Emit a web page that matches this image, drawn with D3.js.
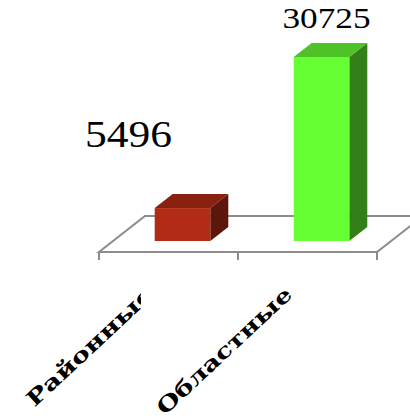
<!DOCTYPE html>
<html><head><meta charset="utf-8">
<script src="https://cdn.jsdelivr.net/npm/d3@7"></script>
<style>html,body{margin:0;padding:0;background:#fff;overflow:hidden}</style>
</head><body>
<script>
const categories = ["Районные", "Областные"];
const values = [5496, 30725];
const frontColors = ["#B22B16", "#66FF33"];
const topColors = ["#8A2010", "#4FC228"];
const sideColors = ["#5C160B", "#33801A"];

const W = 410, H = 416;
const svg = d3.select("body").append("svg").attr("width", W).attr("height", H);

const floorY = 252;
const floorDepth = [46, -36];
const barOff = [14, -11];
const barDepth = [18, -14];

const x = d3.scaleBand().domain(categories).range([99, 377]).paddingInner(0.6).paddingOuter(0.3);
const y = d3.scaleLinear().domain([0, 35000]).range([floorY + barOff[1], 31.4]);

// floor
const fl = x.range()[0], fr = x.range()[1];
const floorPts = [[fl, floorY], [fr, floorY], [fr + floorDepth[0], floorY + floorDepth[1]], [fl + floorDepth[0], floorY + floorDepth[1]]];
svg.append("polygon").attr("points", floorPts.map(p => p.join(",")).join(" "))
  .attr("fill", "none").attr("stroke", "#8c8c8c").attr("stroke-width", 2).attr("stroke-linejoin", "miter");
// ticks
const tickXs = [fl].concat(categories.map(c => x(c) + x.bandwidth() / 2 + x.step() / 2));
svg.selectAll(".tick").data(tickXs).enter().append("line")
  .attr("x1", d => d).attr("x2", d => d).attr("y1", floorY).attr("y2", floorY + 8)
  .attr("stroke", "#8c8c8c").attr("stroke-width", 2);

// bars
const g = svg.selectAll(".bar").data(values).enter().append("g");
g.each(function (v, i) {
  const x0 = x(categories[i]) + barOff[0];
  const x1 = x0 + x.bandwidth();
  const yb = y(0), yt = y(v);
  const sel = d3.select(this);
  const [dx, dy] = barDepth;
  sel.append("polygon").attr("points", [[x1, yt], [x1 + dx, yt + dy], [x1 + dx, yb + dy], [x1, yb]].map(p => p.join(",")).join(" ")).attr("fill", sideColors[i]);
  sel.append("polygon").attr("points", [[x0, yt], [x0 + dx, yt + dy], [x1 + dx, yt + dy], [x1, yt]].map(p => p.join(",")).join(" ")).attr("fill", topColors[i]);
  sel.append("rect").attr("x", x0).attr("y", yt).attr("width", x1 - x0).attr("height", yb - yt).attr("fill", frontColors[i]);
});

// value labels
const labelLayout = [{dx: -54, y: 147, size: 37, len: 87}, {dx: 5, y: 28, size: 29, len: 88}];
svg.selectAll(".val").data(values).enter().append("text")
  .attr("x", (d, i) => x(categories[i]) + barOff[0] + x.bandwidth() / 2 + labelLayout[i].dx)
  .attr("y", (d, i) => labelLayout[i].y)
  .attr("text-anchor", "middle")
  .style("font-family", "'Liberation Serif', 'Times New Roman', 'DejaVu Serif', serif")
  .attr("font-size", (d, i) => labelLayout[i].size)
  .attr("textLength", (d, i) => labelLayout[i].len)
  .attr("lengthAdjust", "spacingAndGlyphs")
  .attr("fill", "#000")
  .text(d => d3.format("d")(d));

// category labels
svg.append("defs").append("clipPath").attr("id", "clipL").append("rect").attr("x", 0).attr("y", 0).attr("width", 141).attr("height", H);
const catG = categories.map((c, i) => i === 0 ? svg.append("g").attr("clip-path", "url(#clipL)") : svg.append("g"));
categories.forEach((c, i) => {
  catG[i].append("text")
    .attr("transform", `translate(${x(c) + x.bandwidth() / 2 - 14},${296}) rotate(-43)`)
    .attr("text-anchor", "end")
    .style("font-family", "'DejaVu Serif', serif")
    .attr("font-weight", "bold")
    .attr("font-size", 21)
    .attr("textLength", [164, 176][i])
    .attr("lengthAdjust", "spacingAndGlyphs")
    .text(c);
});
</script>
</body></html>
